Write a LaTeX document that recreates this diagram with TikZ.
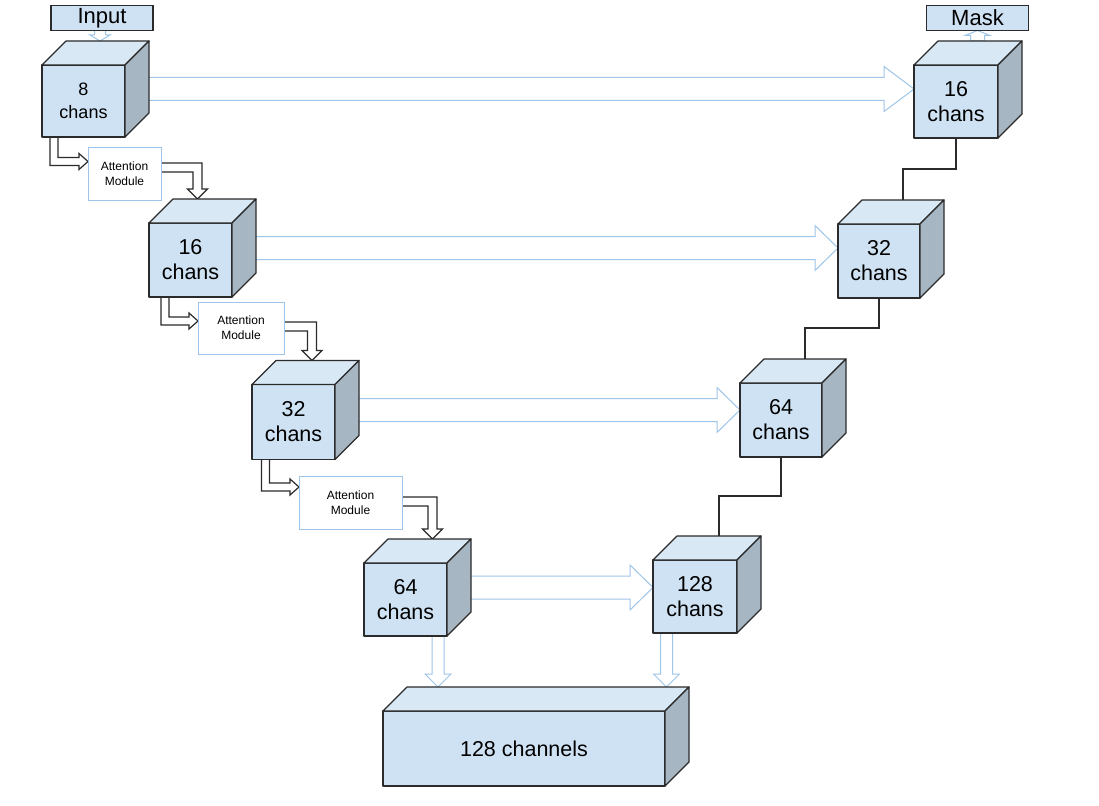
\documentclass[tikz,border=0pt]{standalone}
\usepackage{fontspec}
\setmainfont{Liberation Sans}
\usetikzlibrary{calc}
\pgfdeclarelayer{paper}
\pgfdeclarelayer{bg}
\pgfsetlayers{paper,bg,main}
\definecolor{frontc}{HTML}{CFE2F3}
\definecolor{topc}{HTML}{D9E8F5}
\definecolor{sidec}{HTML}{A6B6C3}
\definecolor{lblue}{HTML}{9FC5E8}
\definecolor{dark}{HTML}{2B2B2B}
\tikzset{
 cubefront/.style={draw=dark, fill=frontc, line width=1.2pt, outer sep=0pt, inner sep=0pt, align=center, font=\fontsize{21.5}{25}\selectfont, line join=round},
 cubetop/.style={draw=dark, fill=topc, line width=1.2pt, line join=round},
 cubeside/.style={draw=dark, fill=sidec, line width=1.2pt, line join=round},
 attbox/.style={draw=lblue, fill=white, line width=1pt, outer sep=0pt, inner sep=0pt, align=center, font=\fontsize{12}{15}\selectfont},
 labelbox/.style={draw=dark, fill=frontc, line width=1.2pt, outer sep=0pt, minimum width=102, minimum height=25, inner sep=0pt, font=\fontsize{22}{24}\selectfont},
 skiparrow/.style={draw=lblue, fill=white, line width=1pt, line join=miter},
 blackarrow/.style={draw=dark, fill=white, line width=1.2pt, line join=miter},
 link/.style={draw=dark, line width=1.2pt},
}
% cube: options, name, position, width, height, text
\newcommand\mkcube[6][]{%
 \node[cubefront, minimum width=#4, minimum height=#5, #1] (#2) at (#3) {#6};
 \path[cubetop] (#2.north west) -- ++(24,-24) -- ($(#2.north east)+(24,-24)$) -- (#2.north east) -- cycle;
 \path[cubeside] (#2.north east) -- ++(24,-24) -- ($(#2.south east)+(24,-24)$) -- (#2.south east) -- cycle;
}
% horizontal hollow arrow: style, start, tip, half shaft, half head, head length
\newcommand\harrow[6]{%
 \path[#1] let \p1=(#2), \p2=(#3) in
 ({\x1},{\y1+#4}) -- ({\x2-#6},{\y1+#4}) -- ({\x2-#6},{\y1+#5}) -- ({\x2},{\y1}) -- ({\x2-#6},{\y1-#5}) -- ({\x2-#6},{\y1-#4}) -- ({\x1},{\y1-#4}) -- cycle;}
% vertical hollow arrow: style, start, tip, half shaft, half head, signed head length
\newcommand\varrow[6]{%
 \path[#1] let \p1=(#2), \p2=(#3) in
 ({\x1-#4},{\y1}) -- ({\x1-#4},{\y2+#6}) -- ({\x1-#5},{\y2+#6}) -- ({\x1},{\y2}) -- ({\x1+#5},{\y2+#6}) -- ({\x1+#4},{\y2+#6}) -- ({\x1+#4},{\y1}) -- cycle;}
% elbow down then right: start, tip, half shaft, half head, head length
\newcommand\elbowdown[5]{%
 \path[blackarrow] let \p1=(#1), \p2=(#2) in
 ({\x1-#3},{\y1}) -- ({\x1-#3},{\y2-#3}) -- ({\x2-#5},{\y2-#3}) -- ({\x2-#5},{\y2-#4}) -- ({\x2},{\y2}) -- ({\x2-#5},{\y2+#4}) -- ({\x2-#5},{\y2+#3}) -- ({\x1+#3},{\y2+#3}) -- ({\x1+#3},{\y1});}
% elbow right then down: start, tip, half shaft, half head, head length
\newcommand\elbowright[5]{%
 \path[blackarrow] let \p1=(#1), \p2=(#2) in
 ({\x1},{\y1+#3}) -- ({\x2+#3},{\y1+#3}) -- ({\x2+#3},{\y2+#5}) -- ({\x2+#4},{\y2+#5}) -- ({\x2},{\y2}) -- ({\x2-#4},{\y2+#5}) -- ({\x2-#3},{\y2+#5}) -- ({\x2-#3},{\y1-#3}) -- ({\x1},{\y1-#3});}

\begin{document}
\begin{tikzpicture}[x=1pt,y=-1pt]
\begin{pgfonlayer}{paper}
\fill[white] (0,0) rectangle (1099,805);
\end{pgfonlayer}
\useasboundingbox (0,0) rectangle (1099,805);

% label boxes
\node[labelbox] (in) at (102,18) {Input};
\node[labelbox] (mask) at (977.5,18) {Mask};

% cubes
\mkcube[font=\fontsize{18}{23}\selectfont]{c1}{83.5,101}{83}{72}{8\\chans}
\mkcube{m1}{956,101.5}{84}{73}{16\\chans}
\mkcube{c2}{190.5,260}{83}{74}{16\\chans}
\mkcube{m2}{879,261}{82}{74}{32\\chans}
\mkcube{c3}{293.5,422}{83}{75}{32\\chans}
\mkcube{m3}{781,420}{82}{74}{64\\chans}
\mkcube{c4}{405.5,599.5}{83}{73}{64\\chans}
\mkcube{m4}{695,596.5}{84}{73}{128\\chans}
\mkcube{bot}{524,748.5}{282}{75}{128 channels}

% attention modules
\node[attbox, minimum width=73, minimum height=52] (a1) at (124.5,174) {Attention\\Module};
\node[attbox, minimum width=86, minimum height=52] (a2) at (241,328) {Attention\\Module};
\node[attbox, minimum width=103, minimum height=53] (a3) at (350.5,502.5) {Attention\\Module};

\begin{pgfonlayer}{bg}
% skip connections
\harrow{skiparrow}{$(c1.east)+(12,-12)$}{m1.west}{11.5}{22.5}{30}
\harrow{skiparrow}{$(c2.east)+(12,-12)$}{m2.west}{11.5}{22.5}{23}
\harrow{skiparrow}{$(c3.east)+(12,-12)$}{m3.west}{11.5}{22.5}{23}
\harrow{skiparrow}{$(c4.east)+(12,-12)$}{m4.west}{11.5}{22.5}{23}
% input / mask arrows
\varrow{skiparrow}{$(in.south)+(-2,0)$}{$(c1.north)+(0,-24)$}{5.5}{10}{6}
\varrow{skiparrow}{$(m1.north)+(21.5,-24)$}{mask.south}{7}{12.5}{-5}
% down arrows to bottom block
\varrow{skiparrow}{$(c4.south west)+(74,0)$}{$(bot.north west)+(0,-24)$}{6}{13}{13}
\varrow{skiparrow}{$(m4.south west)+(13.5,0)$}{$(bot.north west)+(0,-24)$}{6}{13}{13}
% attention arrows
\elbowdown{$(c1.south west)+(12,0)$}{$(a1.north west)+(0,13.5)$}{4}{8}{9}
\elbowright{$(a1.north east)+(0,19.5)$}{$(c2.north west)+(48.5,-24)$}{4.5}{10}{10}
\elbowdown{$(c2.south west)+(16,0)$}{$(a2.north west)+(0,19)$}{4}{8}{9}
\elbowright{$(a2.north east)+(0,24.5)$}{$(c3.north west)+(60,-24)$}{4.5}{10}{10}
\elbowdown{$(c3.south west)+(13.5,0)$}{$(a3.north west)+(0,11)$}{4}{8}{9}
\elbowright{$(a3.north east)+(0,25.5)$}{$(c4.north west)+(68.5,-24)$}{4.5}{10}{10}
\end{pgfonlayer}

% decoder links
\draw[link] (m1.south) -- ++(0,31) -| ($(m2.north)+(24,-24)$);
\draw[link] (m2.south) -- ++(0,30) -| ($(m3.north)+(24,-24)$);
\draw[link] (m3.south) -- ++(0,39) -| ($(m4.north)+(24,-24)$);
\end{tikzpicture}
\end{document}
